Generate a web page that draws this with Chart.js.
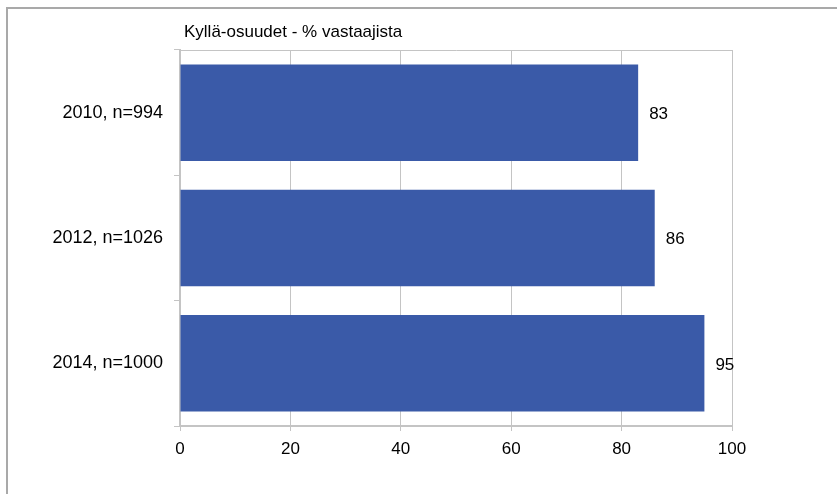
<!DOCTYPE html>
<html>
<head>
<meta charset="utf-8">
<script src="https://cdn.jsdelivr.net/npm/chart.js@4/dist/chart.umd.min.js"></script>
<style>
  html, body { margin: 0; padding: 0; background: #fff; }
  #wrap { position: relative; width: 837px; height: 494px; overflow: hidden; }
  #frame { position: absolute; left: 6px; top: 7px; right: -10px; bottom: -10px;
           border-top: 2px solid #a9a9a9; border-left: 2px solid #a9a9a9; pointer-events: none; }
  canvas { position: absolute; left: 0; top: 0; }
</style>
</head>
<body>
<div id="wrap">
  <canvas id="chart" width="837" height="494"></canvas>
  <div id="frame"></div>
</div>
<script>
// Survey results: share of "yes" answers per survey year
const chartTitle = 'Kyllä-osuudet - % vastaajista';
const categories = ['2010, n=994', '2012, n=1026', '2014, n=1000'];
const yesShare = [83, 86, 95];
const xTicks = [0, 20, 40, 60, 80, 100];

const FONT = '"Liberation Sans", Arial, sans-serif';
const BAR_COLOR = '#3a5aa8';
const GRID_COLOR = '#c4c4c4';

// Plot-area frame, heading and value labels
const decorations = {
  id: 'decorations',
  afterDatasetsDraw(chart) {
    const { ctx, chartArea } = chart;
    ctx.save();
    ctx.strokeStyle = GRID_COLOR;
    ctx.lineWidth = 1;
    ctx.beginPath();
    ctx.moveTo(chartArea.left, chartArea.top + 0.5);
    ctx.lineTo(chartArea.right + 0.5, chartArea.top + 0.5);
    ctx.lineTo(chartArea.right + 0.5, chartArea.bottom);
    ctx.stroke();

    ctx.fillStyle = '#000';
    ctx.font = '17px ' + FONT;
    ctx.textAlign = 'left';
    ctx.textBaseline = 'alphabetic';
    ctx.fillText(chartTitle, chartArea.left + 4, 37);

    const meta = chart.getDatasetMeta(0);
    ctx.textBaseline = 'middle';
    meta.data.forEach((bar, i) => {
      ctx.fillText(String(yesShare[i]), bar.x + 11, bar.y + 1.5);
    });
    ctx.restore();
  }
};

new Chart(document.getElementById('chart'), {
  type: 'bar',
  data: {
    labels: categories,
    datasets: [{
      data: yesShare,
      backgroundColor: BAR_COLOR,
      borderWidth: 0,
      barPercentage: 0.77,
      categoryPercentage: 1.0
    }]
  },
  options: {
    indexAxis: 'y',
    responsive: false,
    animation: false,
    events: [],
    layout: { padding: { top: 50, right: 105, bottom: 0, left: 0 } },
    plugins: { legend: { display: false }, tooltip: { enabled: false }, title: { display: false } },
    scales: {
      x: {
        min: 0,
        max: 100,
        afterBuildTicks(scale) { scale.ticks = xTicks.map(v => ({ value: v })); },
        afterFit(scale) { scale.height = 68; },
        grid: { color: GRID_COLOR, lineWidth: 1, tickLength: 5, drawTicks: true },
        border: { color: GRID_COLOR, width: 2 },
        ticks: { color: '#000', font: { family: FONT, size: 17 }, padding: 8, maxRotation: 0 }
      },
      y: {
        afterFit(scale) { scale.width = 180; },
        offset: true,
        grid: { offset: true, drawOnChartArea: false, drawTicks: true, tickLength: 6, color: GRID_COLOR },
        border: { color: GRID_COLOR, width: 2 },
        ticks: { color: '#000', font: { family: FONT, size: 18 }, padding: 11 }
      }
    }
  },
  plugins: [decorations]
});
</script>
</body>
</html>
